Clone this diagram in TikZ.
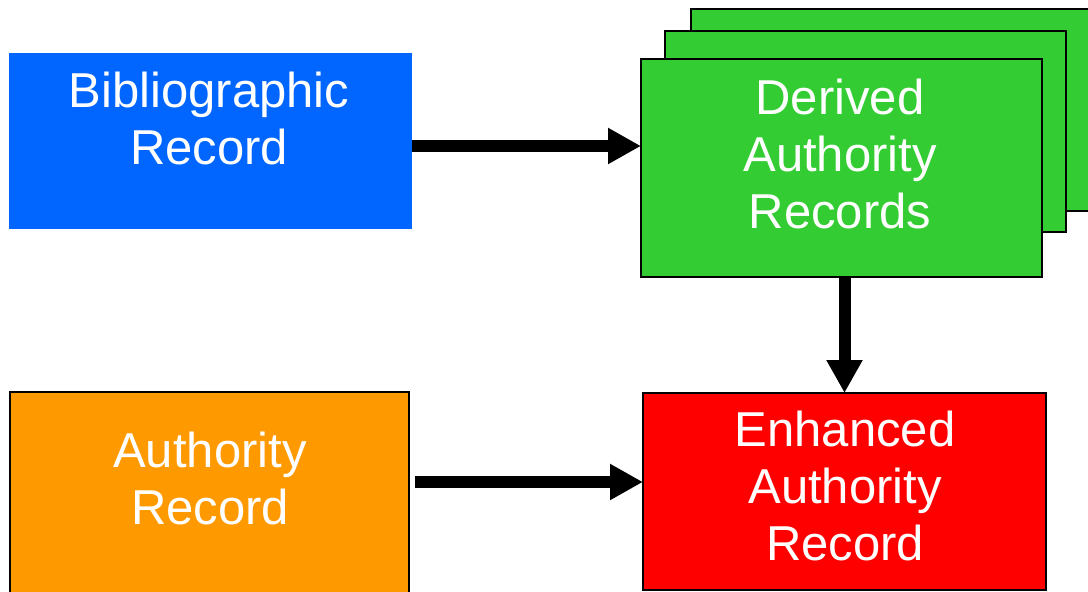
\documentclass[tikz,border=0pt]{standalone}
\usepackage{fontspec}
\setmainfont{Liberation Sans}
\usepackage{tikz}
\usetikzlibrary{arrows.meta}

\definecolor{bibblue}{HTML}{0066FF}
\definecolor{derivgreen}{HTML}{33CC33}
\definecolor{authorange}{HTML}{FF9900}
\definecolor{enhred}{HTML}{FF0000}

\begin{document}
\begin{tikzpicture}[x=1pt,y=-1pt,
		record/.style={rectangle,inner sep=0pt,outer sep=0pt,line width=2pt,draw=black},
		recordtext/.style={anchor=north,inner sep=0pt,align=center,text=white,font=\fontsize{49}{57}\selectfont},
		flow/.style={line width=12pt,-{Triangle[length=33pt,width=34pt]}}]
		\useasboundingbox (0,0) rectangle (1088,592);
		\clip (0,0) rectangle (1088,592);
		\node[rectangle,inner sep=0pt,fill=bibblue,minimum width=403pt,minimum height=176pt] (bib) at (210.5,141) {};
		\node[record,fill=derivgreen,minimum width=402pt,minimum height=202pt] (deriv-3) at (892,110) {};
		\node[record,fill=derivgreen,minimum width=401pt,minimum height=201pt] (deriv-2) at (865.5,131.5) {};
		\node[record,fill=derivgreen,minimum width=401pt,minimum height=218pt] (deriv) at (841.5,168) {};
		\node[record,fill=authorange,minimum width=399pt,minimum height=202pt] (auth) at (209.5,493) {};
		\node[record,fill=enhred,minimum width=403pt,minimum height=197pt] (enh) at (844.5,491.5) {};
		\node[recordtext] (bib-text) at (209,72) {Bibliographic\\Record};
		\node[recordtext] (deriv-text) at (840,79) {Derived\\Authority\\Records};
		\node[recordtext] (auth-text) at (210,432) {Authority\\Record};
		\node[recordtext] (enh-text) at (845,411) {Enhanced\\Authority\\Record};
		\draw[flow] ([yshift=-5pt]bib.east) -- ([yshift=-5pt]bib.east -| deriv.west);
		\draw[flow] (enh.north |- deriv.south) -- (enh.north);
		\draw[flow,shorten <=6pt] ([yshift=11pt]auth.east) -- ([yshift=11pt]auth.east -| enh.west);
		\end{tikzpicture}
\end{document}
